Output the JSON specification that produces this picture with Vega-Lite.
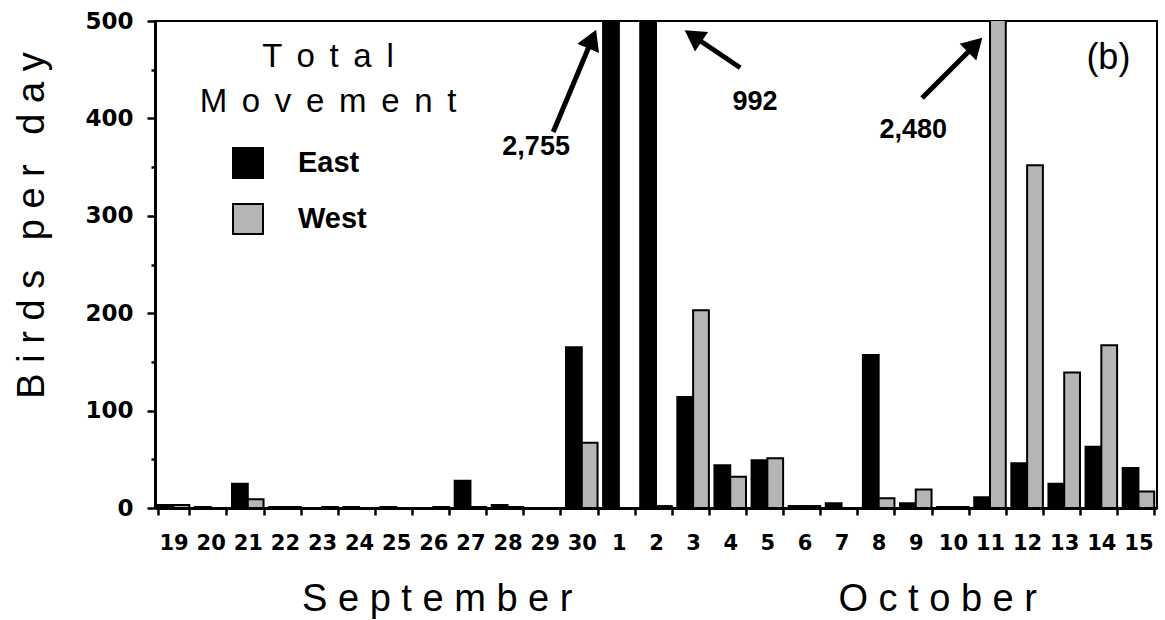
{
  "$schema": "https://vega.github.io/schema/vega-lite/v6.json",
  "width": 1002,
  "height": 487,
  "autosize": {"type": "none"},
  "padding": {"left": 155, "top": 21, "right": 8, "bottom": 112},
  "background": "white",
  "config": {
    "font": "Liberation Sans",
    "view": {"stroke": "black", "strokeWidth": 2},
    "axis": {"domainColor": "black", "tickColor": "black", "labelColor": "black", "titleColor": "black", "grid": false}
  },
  "datasets": {
    "birds": [
      {"day": "19", "dir": "East", "count": 3}, {"day": "19", "dir": "West", "count": 3},
      {"day": "20", "dir": "East", "count": 1}, {"day": "20", "dir": "West", "count": 0},
      {"day": "21", "dir": "East", "count": 25}, {"day": "21", "dir": "West", "count": 9},
      {"day": "22", "dir": "East", "count": 1}, {"day": "22", "dir": "West", "count": 1},
      {"day": "23", "dir": "East", "count": 0}, {"day": "23", "dir": "West", "count": 1},
      {"day": "24", "dir": "East", "count": 1}, {"day": "24", "dir": "West", "count": 0},
      {"day": "25", "dir": "East", "count": 1}, {"day": "25", "dir": "West", "count": 0},
      {"day": "26", "dir": "East", "count": 0}, {"day": "26", "dir": "West", "count": 1},
      {"day": "27", "dir": "East", "count": 28}, {"day": "27", "dir": "West", "count": 1},
      {"day": "28", "dir": "East", "count": 3}, {"day": "28", "dir": "West", "count": 1},
      {"day": "29", "dir": "East", "count": 0}, {"day": "29", "dir": "West", "count": 0},
      {"day": "30", "dir": "East", "count": 165}, {"day": "30", "dir": "West", "count": 67},
      {"day": "1", "dir": "East", "count": 2755}, {"day": "1", "dir": "West", "count": 0},
      {"day": "2", "dir": "East", "count": 992}, {"day": "2", "dir": "West", "count": 2},
      {"day": "3", "dir": "East", "count": 114}, {"day": "3", "dir": "West", "count": 203},
      {"day": "4", "dir": "East", "count": 44}, {"day": "4", "dir": "West", "count": 32},
      {"day": "5", "dir": "East", "count": 49}, {"day": "5", "dir": "West", "count": 51},
      {"day": "6", "dir": "East", "count": 2}, {"day": "6", "dir": "West", "count": 2},
      {"day": "7", "dir": "East", "count": 5}, {"day": "7", "dir": "West", "count": 0},
      {"day": "8", "dir": "East", "count": 157}, {"day": "8", "dir": "West", "count": 10},
      {"day": "9", "dir": "East", "count": 5}, {"day": "9", "dir": "West", "count": 19},
      {"day": "10", "dir": "East", "count": 1}, {"day": "10", "dir": "West", "count": 1},
      {"day": "11", "dir": "East", "count": 11}, {"day": "11", "dir": "West", "count": 2480},
      {"day": "12", "dir": "East", "count": 46}, {"day": "12", "dir": "West", "count": 352},
      {"day": "13", "dir": "East", "count": 25}, {"day": "13", "dir": "West", "count": 139},
      {"day": "14", "dir": "East", "count": 63}, {"day": "14", "dir": "West", "count": 167},
      {"day": "15", "dir": "East", "count": 41}, {"day": "15", "dir": "West", "count": 17}
    ],
    "notes": [
      {"x": 10.27, "y": 371, "label": "2,755"},
      {"x": 16.17, "y": 417, "label": "992"},
      {"x": 20.43, "y": 388, "label": "2,480"}
    ],
    "panel": [
      {"x": 25.69, "y": 462, "label": "(b)"}
    ],
    "arrows": [
      {"x": 10.73, "y": 386, "x2": 11.78, "y2": 481.5, "angle": 23},
      {"x": 15.77, "y": 452, "x2": 14.5, "y2": 484.6, "angle": -56},
      {"x": 20.67, "y": 421, "x2": 22.1, "y2": 475.4, "angle": 45}
    ]
  },
  "layer": [
    {
      "data": {"name": "birds"},
      "mark": {"type": "bar", "clip": true, "stroke": "black", "strokeWidth": 2},
      "encoding": {
        "x": {
          "field": "day", "type": "nominal", "sort": null,
          "scale": {"paddingInner": 0.15, "paddingOuter": 0.075},
          "axis": {
            "tickBand": "extent", "tickSize": 7, "tickWidth": 2.5, "domainWidth": 3,
            "labelFont": "DejaVu Sans", "labelFontSize": 21, "labelFontWeight": "bold", "labelPadding": 17, "labelAngle": 0,
            "title": "S e p t e m b e r\u2003\u2003\u2003\u2003\u2003\u2003\u2003O c t o b e r",
            "titleFontSize": 38, "titleFontWeight": "normal",
            "titleX": 514, "titleY": 102, "titleBaseline": "alphabetic", "titleAlign": "center"
          }
        },
        "xOffset": {"field": "dir", "type": "nominal", "scale": {"paddingInner": 0, "paddingOuter": 0}},
        "y": {
          "field": "count", "type": "quantitative",
          "scale": {"domain": [0, 500], "nice": false},
          "axis": {
            "values": [0, 50, 100, 150, 200, 250, 300, 350, 400, 450, 500],
            "labelExpr": "datum.value % 100 === 0 ? datum.label : ''",
            "tickSize": {"condition": {"test": "datum.value % 100 === 0", "value": 8}, "value": 4},
            "tickWidth": 2.5, "domainWidth": 3,
            "labelFont": "DejaVu Sans", "labelFontSize": 23, "labelFontWeight": "bold", "labelPadding": 14,
            "title": "B i r d s\u00a0\u2002p e r\u00a0\u2002d a y",
            "titleFontSize": 38, "titleFontWeight": "normal",
            "titleX": -112, "titleY": 204, "titleBaseline": "alphabetic", "titleAlign": "center", "titleAngle": 270
          }
        },
        "fill": {
          "field": "dir", "type": "nominal",
          "scale": {"domain": ["East", "West"], "range": ["#000000", "#b5b5b5"]},
          "legend": {
            "orient": "none", "legendX": 45, "legendY": 20, "padding": 0,
            "title": ["T \u2006o \u2006t \u2006a \u2006l", "M \u2006o \u2006v \u2006e \u2006m \u2006e \u2006n \u2006t"],
            "titleFontSize": 33, "titleFontWeight": "normal", "titleLineHeight": 45, "titleLimit": 600,
            "titleAnchor": "start", "titleAlign": "center", "titlePadding": 28, "titleColor": "black",
            "symbolType": "square", "symbolSize": 900, "symbolOffset": -96,
            "symbolStrokeColor": "black", "symbolStrokeWidth": 2,
            "labelFontSize": 29, "labelFontWeight": "bold", "labelOffset": 34, "labelColor": "black",
            "rowPadding": 18
          }
        }
      }
    },
    {
      "data": {"name": "arrows"},
      "mark": {"type": "rule", "strokeWidth": 5, "color": "black"},
      "encoding": {
        "x": {"field": "x", "type": "quantitative", "scale": {"domain": [0, 27]}, "axis": null},
        "y": {"field": "y", "type": "quantitative", "scale": {"domain": [0, 500], "nice": false}, "axis": null},
        "x2": {"field": "x2"},
        "y2": {"field": "y2"}
      }
    },
    {
      "data": {"name": "arrows"},
      "mark": {"type": "point", "shape": "triangle-up", "filled": true, "size": 550, "color": "black", "opacity": 1},
      "encoding": {
        "x": {"field": "x2", "type": "quantitative", "scale": {"domain": [0, 27]}, "axis": null},
        "y": {"field": "y2", "type": "quantitative", "scale": {"domain": [0, 500], "nice": false}, "axis": null},
        "angle": {"field": "angle", "type": "quantitative", "scale": null}
      }
    },
    {
      "data": {"name": "notes"},
      "mark": {"type": "text", "fontSize": 27, "fontWeight": "bold", "align": "center", "baseline": "middle", "color": "black"},
      "encoding": {
        "x": {"field": "x", "type": "quantitative", "scale": {"domain": [0, 27]}, "axis": null},
        "y": {"field": "y", "type": "quantitative", "scale": {"domain": [0, 500], "nice": false}, "axis": null},
        "text": {"field": "label"}
      }
    },
    {
      "data": {"name": "panel"},
      "mark": {"type": "text", "fontSize": 36, "fontWeight": "normal", "align": "center", "baseline": "middle", "color": "black"},
      "encoding": {
        "x": {"field": "x", "type": "quantitative", "scale": {"domain": [0, 27]}, "axis": null},
        "y": {"field": "y", "type": "quantitative", "scale": {"domain": [0, 500], "nice": false}, "axis": null},
        "text": {"field": "label"}
      }
    }
  ],
  "resolve": {"scale": {"x": "independent"}, "axis": {"y": "independent"}}
}
